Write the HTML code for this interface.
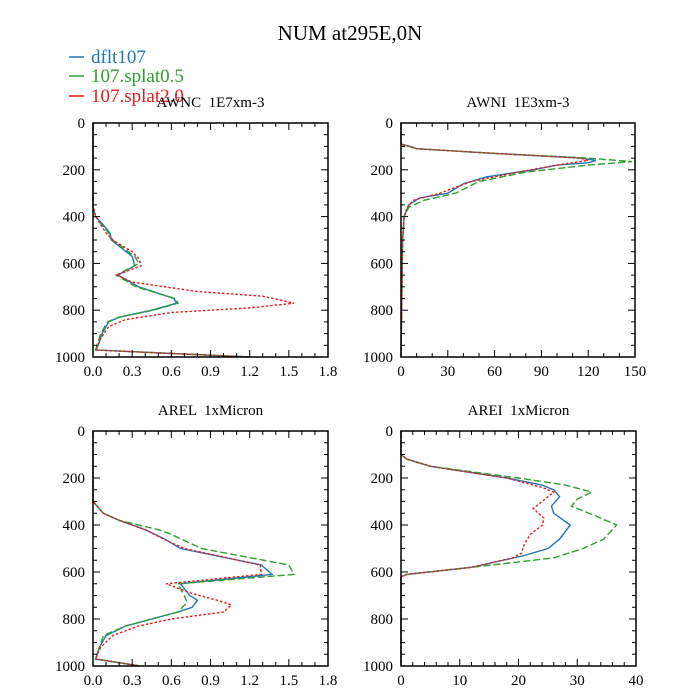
<!DOCTYPE html>
<html><head><meta charset="utf-8">
<style>
html,body{margin:0;padding:0;background:#fff;}
svg{display:block;font-family:"Liberation Serif",serif;}
text{white-space:pre;}
</style></head>
<body>
<svg id="chart" width="700" height="700" viewBox="0 0 700 700">
<text x="350" y="40" font-size="21" text-anchor="middle">NUM at295E,0N</text>
<g>
<g><line x1="69" y1="57" x2="84" y2="57" stroke="#1f77b4" stroke-width="1.5"/><text x="91" y="63" font-size="19" fill="#1f77b4">dflt107</text></g>
<g><line x1="69" y1="76" x2="84" y2="76" stroke="#2ca02c" stroke-width="1.5"/><text x="91" y="82" font-size="19" fill="#2ca02c">107.splat0.5</text></g>
<g><line x1="69" y1="96" x2="84" y2="96" stroke="#e8191c" stroke-width="1.5"/><text x="91" y="102" font-size="19" fill="#e8191c">107.splat2.0</text></g>
</g>
<g id="panels"></g>
</svg>
<script>
// ---- Data ----
const yTicks = [0, 200, 400, 600, 800, 1000];
// AWNC
const awncXTicks = ["0.0","0.3","0.6","0.9","1.2","1.5","1.8"];
const awncBlueP = [0,360,400,430,470,500,570,610,650,700,750,770,800,830,850,900,950,970,1000];
const awncBlueX = [0,0,0.02,0.07,0.13,0.14,0.30,0.32,0.19,0.35,0.62,0.64,0.45,0.20,0.12,0.07,0.04,0.02,1.2];
const awncGreenP = [0,360,400,430,470,500,570,600,650,700,750,770,800,830,850,900,950,970,1000];
const awncGreenX = [0,0,0.02,0.06,0.12,0.15,0.32,0.35,0.18,0.33,0.63,0.65,0.46,0.20,0.11,0.06,0.03,0.02,1.2];
const awncRedP = [0,350,400,470,500,550,580,610,650,680,720,740,770,790,810,840,870,920,970,1000];
const awncRedX = [0,0,0.02,0.10,0.15,0.30,0.35,0.37,0.18,0.30,0.80,1.30,1.54,1.20,0.60,0.25,0.12,0.06,0.02,1.2];
// AWNI
const awniXTicks = ["0","30","60","90","120","150"];
const awniBlueP = [0,90,100,110,130,150,160,170,180,200,230,260,300,320,350,400,500,1000];
const awniBlueX = [0,0,6,10,60,115,125,120,100,85,55,40,30,12,5,2,1,0];
const awniGreenP = [0,90,110,130,150,165,180,210,250,300,330,360,400,500,1000];
const awniGreenX = [0,0,10,60,120,148,120,80,50,35,15,5,2,1,0];
const awniRedP = [0,90,110,130,150,160,180,210,250,300,330,360,400,500,1000];
const awniRedX = [0,0,10,60,115,120,100,75,45,25,8,4,2,1,0];
// AREL
const arelXTicks = ["0.0","0.3","0.6","0.9","1.2","1.5","1.8"];
const arelBlueP = [0,300,350,380,420,460,500,570,610,650,700,720,750,770,800,830,870,920,970,1000];
const arelBlueX = [0,0,0.08,0.20,0.40,0.55,0.67,1.29,1.37,0.67,0.74,0.80,0.76,0.65,0.45,0.25,0.10,0.05,0.02,0.36];
const arelGreenP = [0,300,350,380,420,440,500,570,610,650,700,730,770,800,830,870,970,1000];
const arelGreenX = [0,0,0.08,0.20,0.50,0.60,0.83,1.50,1.54,0.65,0.70,0.72,0.65,0.45,0.25,0.08,0.02,0.36];
const arelRedP = [0,300,350,380,420,470,500,570,610,650,690,720,740,770,800,830,870,920,970,1000];
const arelRedX = [0,0,0.08,0.20,0.40,0.58,0.70,1.28,1.29,0.56,0.75,0.95,1.06,1.00,0.60,0.35,0.15,0.06,0.02,0.36];
// AREI
const areiXTicks = ["0","10","20","30","40"];
const areiBlueP = [0,100,120,150,200,230,250,280,320,350,400,460,500,530,580,610,620,1000];
const areiBlueX = [0,0,1,5,18,24,26,27,25.6,26,28.8,27,25,21,12,1,0,0];
const areiGreenP = [0,100,120,150,200,230,260,290,320,360,400,460,500,540,580,610,620,1000];
const areiGreenX = [0,0,1,5,20,28,32.5,30,29,33,36.7,34.5,31,26,12,1,0,0];
const areiRedP = [0,100,120,150,200,240,260,300,330,370,400,440,480,520,540,580,610,620,1000];
const areiRedX = [0,0,1,5,18,24,26,24,22.5,24.3,24.1,22,21,20.5,19,12,1,0,0];

const NS = "http://www.w3.org/2000/svg";
const root = document.getElementById('panels');
function mk(tag, attrs, parent){
  const e = document.createElementNS(NS, tag);
  for (const k in attrs) e.setAttribute(k, attrs[k]);
  parent.appendChild(e);
  return e;
}
const panels = [
 {name:'awnc', title:'AWNC  1E7xm-3', L:93, T:123, W:235, H:234, xmax:1.8, ticks:awncXTicks, sub:3,
  series:[[awncBlueP,awncBlueX],[awncGreenP,awncGreenX],[awncRedP,awncRedX]]},
 {name:'awni', title:'AWNI  1E3xm-3', L:401, T:123, W:234, H:234, xmax:150, ticks:awniXTicks, sub:3,
  series:[[awniBlueP,awniBlueX],[awniGreenP,awniGreenX],[awniRedP,awniRedX]]},
 {name:'arel', title:'AREL  1xMicron', L:93, T:431, W:235, H:235, xmax:1.8, ticks:arelXTicks, sub:3,
  series:[[arelBlueP,arelBlueX],[arelGreenP,arelGreenX],[arelRedP,arelRedX]]},
 {name:'arei', title:'AREI  1xMicron', L:401, T:431, W:235, H:235, xmax:40, ticks:areiXTicks, sub:5,
  series:[[areiBlueP,areiBlueX],[areiGreenP,areiGreenX],[areiRedP,areiRedX]]}
];
const colors = ['#1f77b4','#2ca02c','#e8191c'];
const dashes = ['none','7,3','2.5,2'];
const snames = ['dflt107','splat0.5','splat2.0'];
panels.forEach(p=>{
  const g = mk('g', {}, root);
  
  
  const xs = v => p.L + v / p.xmax * p.W;
  const ys = v => p.T + v / 1000 * p.H;
  const t = mk('text', {x:p.L + p.W/2, y:p.T - 16, 'font-size':15, 'text-anchor':'middle'}, g);
  t.textContent = p.title;
  
  
  p.series.forEach((s,i)=>{
    const pts = s[0].map((pp,k)=>xs(s[1][k]).toFixed(1)+','+ys(pp).toFixed(1)).join(' ');
    const pl = mk('polyline', {points:pts, fill:'none', stroke:colors[i], 'stroke-width':1.4, 'stroke-dasharray':dashes[i]}, g);
    
    
  });
  const fr = mk('rect', {x:p.L, y:p.T, width:p.W, height:p.H, fill:'none', stroke:'#000', 'stroke-width':1.5}, g);
  
  
  const axg = mk('g', {stroke:'#000', 'stroke-width':1}, g);
  
  
  const n = p.ticks.length - 1;
  for (let i = 0; i <= n * p.sub; i++) {
    const x = p.L + i / (n * p.sub) * p.W;
    const len = (i % p.sub === 0) ? 7 : 4;
    mk('line', {x1:x, y1:p.T + p.H, x2:x, y2:p.T + p.H - len}, axg);
    mk('line', {x1:x, y1:p.T, x2:x, y2:p.T + len}, axg);
  }
  p.ticks.forEach((lab,i)=>{
    const tx = mk('text', {x:p.L + i / n * p.W, y:p.T + p.H + 19, 'font-size':15, 'text-anchor':'middle'}, g);
    tx.textContent = lab;
    
    
  });
  for (let v = 0; v <= 1000; v += 50) {
    const y = ys(v);
    const len = (v % 200 === 0) ? 7 : 4;
    mk('line', {x1:p.L, y1:y, x2:p.L + len, y2:y}, axg);
    mk('line', {x1:p.L + p.W, y1:y, x2:p.L + p.W - len, y2:y}, axg);
  }
  yTicks.forEach(v=>{
    const ty = mk('text', {x:p.L - 8, y:ys(v) + 5, 'font-size':15, 'text-anchor':'end'}, g);
    ty.textContent = String(v);
    
    
  });
});
</script>
</body></html>
